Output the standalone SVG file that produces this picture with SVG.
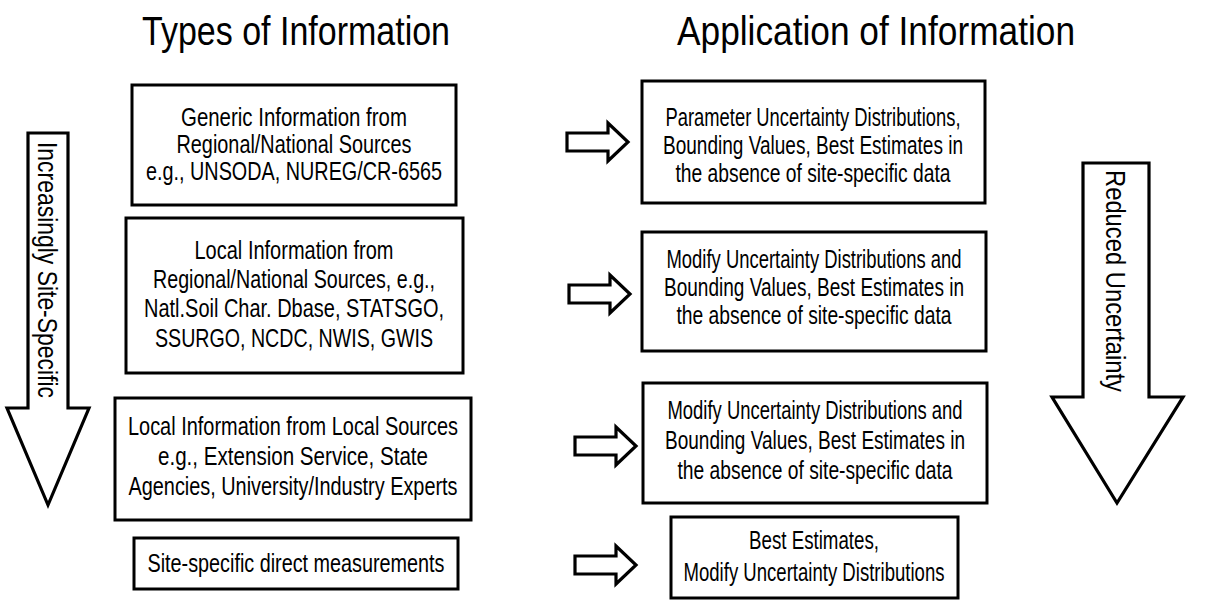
<svg xmlns="http://www.w3.org/2000/svg" width="1228" height="602" viewBox="0 0 1228 602">
<style>
.bg{fill:#ffffff}
.box{fill:#ffffff;stroke:#000000;stroke-width:3}
.blk{fill:#ffffff;stroke:#000000;stroke-width:3.2;stroke-linejoin:miter}
.t{font-family:"Liberation Sans",Arial,sans-serif;font-size:25px;fill:#000000;text-anchor:middle}
.h{font-family:"Liberation Sans",Arial,sans-serif;font-size:40px;fill:#000000;text-anchor:middle}
.v{font-family:"Liberation Sans",Arial,sans-serif;font-size:28px;fill:#000000;text-anchor:middle}
</style>
<rect class="bg" x="0" y="0" width="1228" height="602"/>
<g id="titles">
<text class="h" x="296" y="45" textLength="308" lengthAdjust="spacingAndGlyphs">Types of Information</text>
<text class="h" x="876" y="45" textLength="398" lengthAdjust="spacingAndGlyphs">Application of Information</text>
</g>
<g id="left-arrow">
<polygon class="blk" points="28,133 68,133 68,408 89,408 48,505 7,408 28,408"/>
<text class="v" transform="translate(48,270) rotate(90)" x="0" y="10" textLength="256" lengthAdjust="spacingAndGlyphs">Increasingly Site-Specific</text>
</g>
<g id="right-arrow">
<polygon class="blk" points="1083,163 1149,163 1149,397 1183,397 1117,503 1052,397 1083,397"/>
<text class="v" transform="translate(1116,281) rotate(90)" x="0" y="10" textLength="222" lengthAdjust="spacingAndGlyphs">Reduced Uncertainty</text>
</g>
<g id="box1">
<rect class="box" x="132" y="85" width="324" height="120"/>
<text class="t" x="294" y="126" textLength="226" lengthAdjust="spacingAndGlyphs">Generic Information from</text>
<text class="t" x="294" y="153" textLength="235" lengthAdjust="spacingAndGlyphs">Regional/National Sources</text>
<text class="t" x="294" y="180" textLength="296" lengthAdjust="spacingAndGlyphs">e.g., UNSODA, NUREG/CR-6565</text>
</g>
<g id="box2">
<rect class="box" x="126" y="218" width="337" height="155"/>
<text class="t" x="294" y="259" textLength="199" lengthAdjust="spacingAndGlyphs">Local Information from</text>
<text class="t" x="294" y="288" textLength="282" lengthAdjust="spacingAndGlyphs">Regional/National Sources, e.g.,</text>
<text class="t" x="294" y="317" textLength="300" lengthAdjust="spacingAndGlyphs">Natl.Soil Char. Dbase, STATSGO,</text>
<text class="t" x="294" y="347" textLength="278" lengthAdjust="spacingAndGlyphs">SSURGO, NCDC, NWIS, GWIS</text>
</g>
<g id="box3">
<rect class="box" x="115" y="398" width="356" height="122"/>
<text class="t" x="293" y="435" textLength="330" lengthAdjust="spacingAndGlyphs">Local Information from Local Sources</text>
<text class="t" x="293" y="465" textLength="270" lengthAdjust="spacingAndGlyphs">e.g., Extension Service, State</text>
<text class="t" x="293" y="495" textLength="329" lengthAdjust="spacingAndGlyphs">Agencies, University/Industry Experts</text>
</g>
<g id="box4">
<rect class="box" x="134" y="538" width="324" height="51"/>
<text class="t" x="296" y="572" textLength="297" lengthAdjust="spacingAndGlyphs">Site-specific direct measurements</text>
</g>
<g id="box5">
<rect class="box" x="642" y="81" width="343" height="122"/>
<text class="t" x="813" y="126" textLength="295" lengthAdjust="spacingAndGlyphs">Parameter Uncertainty Distributions,</text>
<text class="t" x="813" y="154" textLength="300" lengthAdjust="spacingAndGlyphs">Bounding Values, Best Estimates in</text>
<text class="t" x="813" y="182" textLength="275" lengthAdjust="spacingAndGlyphs">the absence of site-specific data</text>
</g>
<g id="box6">
<rect class="box" x="642" y="232" width="344" height="119"/>
<text class="t" x="814" y="268" textLength="295" lengthAdjust="spacingAndGlyphs">Modify Uncertainty Distributions and</text>
<text class="t" x="814" y="296" textLength="300" lengthAdjust="spacingAndGlyphs">Bounding Values, Best Estimates in</text>
<text class="t" x="814" y="324" textLength="275" lengthAdjust="spacingAndGlyphs">the absence of site-specific data</text>
</g>
<g id="box7">
<rect class="box" x="643" y="383" width="344" height="120"/>
<text class="t" x="815" y="419" textLength="295" lengthAdjust="spacingAndGlyphs">Modify Uncertainty Distributions and</text>
<text class="t" x="815" y="449" textLength="300" lengthAdjust="spacingAndGlyphs">Bounding Values, Best Estimates in</text>
<text class="t" x="815" y="479" textLength="275" lengthAdjust="spacingAndGlyphs">the absence of site-specific data</text>
</g>
<g id="box8">
<rect class="box" x="671" y="517" width="287" height="81"/>
<text class="t" x="814" y="549" textLength="130" lengthAdjust="spacingAndGlyphs">Best Estimates,</text>
<text class="t" x="814" y="581" textLength="261" lengthAdjust="spacingAndGlyphs">Modify Uncertainty Distributions</text>
</g>
<g id="connectors">
<polygon class="blk" points="567,133 608,133 608,123 628,142 608,161 608,151 567,151"/>
<polygon class="blk" points="569,285 610,285 610,275 630,294 610,313 610,303 569,303"/>
<polygon class="blk" points="575,437 616,437 616,427 636,446 616,465 616,455 575,455"/>
<polygon class="blk" points="575,556 616,556 616,546 636,565 616,584 616,574 575,574"/>
</g>
</svg>
